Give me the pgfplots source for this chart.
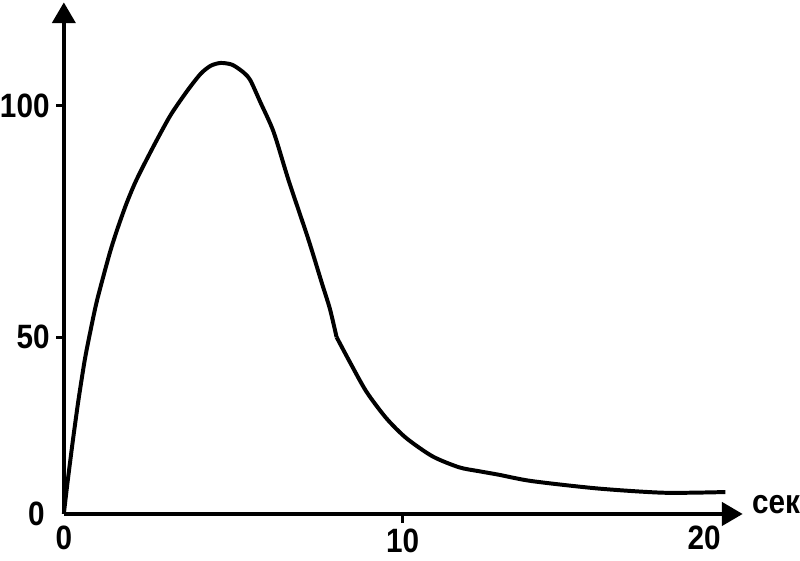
\documentclass[border=0pt]{standalone}
\usepackage{fontspec}
\setmainfont{Liberation Sans}[FakeStretch=0.88]
\usepackage{pgfplots}
\pgfplotsset{compat=1.18}
\usetikzlibrary{arrows.meta}
\begin{document}
\begin{tikzpicture}[lbl/.style={inner sep=0pt, font=\bfseries\fontsize{17}{20}\selectfont}]
\begin{axis}[
  scale only axis, width=342pt, height=257.75pt,
  axis lines=left,
  axis line style={line width=2.3pt, -{Triangle[length=10.5pt,width=11.5pt]}},
  x coord trafo/.code={\pgfmathparse{#1<=10 ? #1*34.13 : 341.3+(#1-10)*30.37}},
  x coord inv trafo/.code={\pgfmathparse{#1<=341.3 ? #1/34.13 : 10+(#1-341.3)/30.37}},
  y coord trafo/.code={\pgfmathparse{#1<=50 ? #1*3.564 : 178.2+(#1-50)*4.666}},
  y coord inv trafo/.code={\pgfmathparse{#1<=178.2 ? #1/3.564 : 50+(#1-178.2)/4.666}},
  xmin=0, xmax=21.28, ymin=0, ymax=122.3,
  xtick={10}, xticklabels={10},
  ytick={50,100}, yticklabels={50,100},
  tick align=outside,
  major tick length=4pt,
  tick label style={font=\bfseries\fontsize{17}{20}\selectfont, inner sep=0pt},
  yticklabel style={xshift=-3pt},
  xticklabel style={yshift=-3.5pt},
  xlabel={сек},
  xlabel style={at={(rel axis cs:1,0)}, anchor=base west, inner sep=0pt,
    xshift=4.5pt, yshift=0pt, font=\bfseries\fontsize{17}{20}\selectfont},
  clip=false,
]
\addplot[line width=2pt, line join=round, smooth, tension=0.45] coordinates {
 (0,0) (0.038,3.2) (0.097,8.0) (0.170,13.6) (0.264,20.6) (0.425,31.8)
 (0.615,43.4) (0.776,51.0) (0.982,58.0) (1.357,68.2) (1.597,73.7)
 (1.846,78.8) (2.089,83.1) (2.335,86.8) (2.740,92.5) (3.164,98.1)
 (3.654,103.3) (4.043,106.9) (4.336,108.6) (4.629,109.2) (4.972,108.8)
 (5.312,107.1) (5.508,105.4) (5.801,100.7) (6.191,94.3) (6.631,83.9)
 (7.217,71.1) (7.609,61.8) (7.852,56.1) (8.049,50.0)
};
\addplot[line width=2pt, line join=round, smooth, tension=0.45] coordinates {
 (8.049,50.0) (8.438,43.0) (8.928,34.6) (9.514,27.1) (10.112,21.5)
 (10.988,16.3) (11.867,13.2) (12.525,12.1) (13.184,11.1) (14.280,9.3)
 (16.477,7.2) (18.673,6.0) (20.701,6.2)
};
\draw[line width=1.4pt, black] (axis cs:10,0) -- (axis cs:10,-2.6);
\draw[line width=1.4pt, black] (axis cs:0,50) -- (axis cs:-0.23,50);
\draw[line width=1.4pt, black] (axis cs:0,100) -- (axis cs:-0.23,100);
\path (axis cs:10,-13.2);
\node[lbl, anchor=north] at (axis cs:0,0) [yshift=-6pt] {0};
\node[lbl, anchor=north] at (axis cs:20,0) [yshift=-6pt] {20};
\node[lbl, anchor=east] at (axis cs:0,0) [xshift=-9.5pt] {0};
\end{axis}
\end{tikzpicture}
\end{document}
